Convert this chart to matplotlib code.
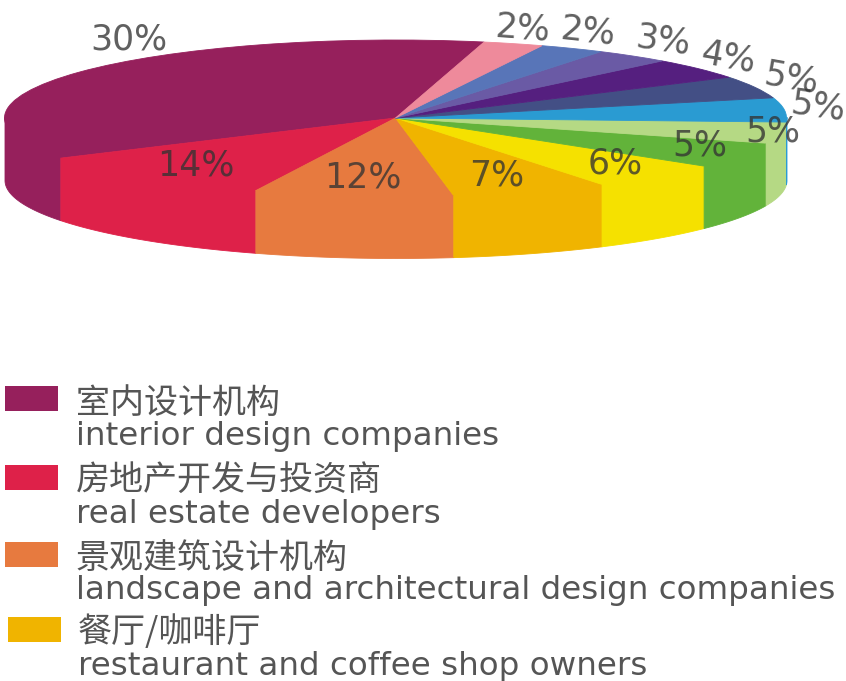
import numpy as np
import matplotlib
matplotlib.use("Agg")
import matplotlib.pyplot as plt
from matplotlib.patches import Rectangle

W, H = 846, 681
CJK = ['Noto Sans CJK SC', 'DejaVu Sans']

# Printed percentages, in drawing order (counter-clockwise from the top)
percents = [30, 14, 12, 7, 6, 5, 5, 5, 5, 4, 3, 2, 2]
# The wedges in the picture are not proportional to the printed figures:
# these are the visible spans, in degrees
visible_spans = [134.1, 38.0, 29.5, 23.3, 20.2, 19.2, 15.8, 18.0, 16.5, 15.5, 11.3, 9.7, 8.9]
slice_colors = ['#96205C', '#DE2149', '#E77A3F', '#F0B400', '#F5E100', '#62B33A', '#B5D984',
                '#2A9BD2', '#434F85', '#551F7F', '#6A5AA5', '#5875B8', '#EE8A9B']
label_centres = [(129, 40), (196, 165), (363, 178), (497, 175), (615, 164), (700, 145), (773, 131),
                 (818, 106), (791, 78), (728, 57), (663, 40), (588, 31), (523, 28)]
label_rotations = [0, 0, 0, 0, 0, 0, 0, -8, -10, -10, -8, -6, -4]

legend_zh = ['室内设计机构', '房地产开发与投资商', '景观建筑设计机构', '餐厅/咖啡厅']
legend_en = ['interior design companies', 'real estate developers',
             'landscape and architectural design companies', 'restaurant and coffee shop owners']
legend_colors = slice_colors[:4]
legend_swatch_x = [5, 5, 5, 8]
legend_swatch_y = [386, 465, 542, 617]
legend_text_x = [76, 76, 76, 78]
legend_zh_y = [403, 481, 558, 633]
legend_en_y = [436, 514, 591, 666]

START_ANGLE = 76.9
DEPTH = 62 / 78   # wall height in units of the ellipse's vertical radius
OVERLAP = 0.015   # wall runs slightly under the top face so no seam shows

fig = plt.figure(figsize=(W / 100, H / 100), dpi=100, facecolor='white')

# Pie: axes stretched over the ellipse's bounding box
ax = fig.add_axes([4.5 / W, 1 - 196 / H, 782 / W, 156 / H])
wedges, _ = ax.pie(visible_spans, colors=slice_colors, startangle=START_ANGLE, radius=1)
for w, c in zip(wedges, slice_colors):
    w.set_edgecolor(c)
    w.set_linewidth(0.6)
    w.set_zorder(2)
ax.set_aspect('auto')
ax.set_xlim(-1, 1)
ax.set_ylim(-1, 1)

# Side wall of the disc, one band per slice, front half only
edges = START_ANGLE + np.concatenate([[0], np.cumsum(visible_spans)])
for a0, a1, c in zip(edges[:-1], edges[1:], slice_colors):
    for lo, hi in ((a0, a1), (a0 - 360, a1 - 360)):
        lo2, hi2 = max(lo, -180), min(hi, 0)
        if hi2 <= lo2:
            continue
        t = np.radians(np.linspace(lo2, hi2, 80))
        ax.fill_between(np.cos(t), np.sin(t) + OVERLAP, np.sin(t) - DEPTH, facecolor=c, edgecolor=c,
                        linewidth=0.6, clip_on=False, zorder=1)

# Overlay in picture pixels for labels and legend
ov = fig.add_axes([0, 0, 1, 1])
ov.set_xlim(0, W)
ov.set_ylim(H, 0)
ov.axis('off')
ov.patch.set_alpha(0)

for p, (x, y), r in zip(percents, label_centres, label_rotations):
    ov.text(x, y, f'{p}%', ha='center', va='center', rotation=r, fontsize=25,
            color='#333333', alpha=0.78, family='DejaVu Sans')

for zh, en, c, sx, sy, tx, zy, ey in zip(legend_zh, legend_en, legend_colors, legend_swatch_x,
                                         legend_swatch_y, legend_text_x, legend_zh_y, legend_en_y):
    ov.add_patch(Rectangle((sx, sy), 53, 25, facecolor=c, edgecolor='none'))
    ov.text(tx, zy, zh, ha='left', va='center', fontsize=24.5, color='#555555', family=CJK)
    ov.text(tx, ey, en, ha='left', va='center', fontsize=23.4, color='#555555', family='DejaVu Sans')

fig.savefig('out.png', dpi=100, facecolor='white')
